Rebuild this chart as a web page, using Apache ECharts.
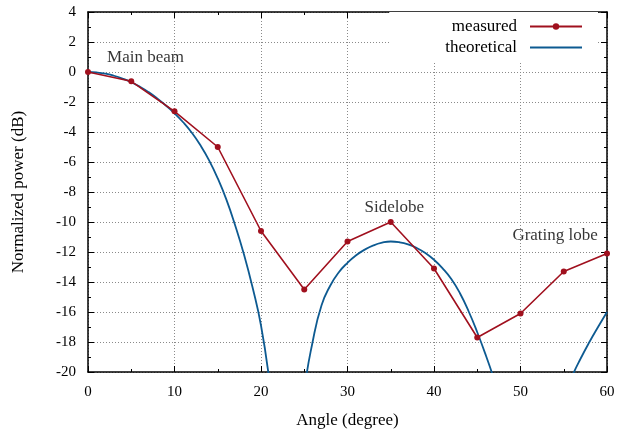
<!DOCTYPE html>
<html>
<head>
<meta charset="utf-8">
<script src="https://cdn.jsdelivr.net/npm/echarts@6/dist/echarts.min.js"></script>
<style>html,body{margin:0;padding:0;background:#fff}#c{width:618px;height:431px}</style>
</head>
<body>
<div id="c"></div>
<script>
// ---- data ----
const measuredAngle = [0, 5, 10, 15, 20, 25, 30, 35, 40, 45, 50, 55, 60];
const measuredPower = [0, -0.62, -2.62, -5.0, -10.6, -14.5, -11.3, -10.0, -13.1, -17.7, -16.1, -13.3, -12.1];

// theoretical curve at 1-degree steps (values below -20 are clipped by the axis)
const theoryAngle = [0, 1, 2, 3, 4, 5, 6, 7, 8, 9, 10, 11, 12, 13, 14, 15, 16, 17, 18, 19, 20, 21, 22, 23, 24, 25, 26, 27, 28, 29, 30, 31, 32, 33, 34, 35, 36, 37, 38, 39, 40, 41, 42, 43, 44, 45, 46, 47, 48, 49, 50, 51, 52, 53, 54, 55, 56, 57, 58, 59, 60];
const theoryPower = [0, -0.03, -0.11, -0.25, -0.44, -0.68, -0.98, -1.34, -1.76, -2.23, -2.75, -3.35, -4.05, -4.89, -5.89, -7.09, -8.51, -10.2, -12.1, -14.3, -16.9, -20.7, -25.5, -32, -27.5, -21.3, -17.9, -15.55, -14.25, -13.35, -12.72, -12.22, -11.84, -11.56, -11.38, -11.3, -11.35, -11.49, -11.73, -12.07, -12.52, -13.09, -13.8, -14.75, -15.95, -17.35, -18.9, -20.6, -22.6, -25.2, -29.5, -36, -33, -27, -23.8, -21.8, -20.25, -19.05, -17.97, -16.97, -16.0];

const noteText = ['Main beam', 'Sidelobe', 'Grating lobe'];
const noteAngle = [6.65, 35.4, 54.0];
const notePower = [0.95, -9.05, -10.9];

const xTicks = [0, 10, 20, 30, 40, 50, 60];
const yTicks = [-20, -18, -16, -14, -12, -10, -8, -6, -4, -2, 0, 2, 4];

// ---- chart ----
const RED = '#a0101e', BLUE = '#0d5a91';
const FONT = 'Liberation Serif';
const chart = echarts.init(document.getElementById('c'), null, {renderer: 'canvas'});

function xAx(pos, labels) {
  return {
    type: 'value', position: pos, min: xTicks[0], max: xTicks[xTicks.length - 1], interval: 10,
    axisLine: {show: true, onZero: false, lineStyle: {color: '#000', width: 1.5}},
    axisTick: {show: true, inside: true, length: 6, lineStyle: {color: '#000', width: 1}},
    minorTick: {show: true, splitNumber: 2, length: 3, lineStyle: {color: '#000', width: 1}},
    axisLabel: {show: labels, fontFamily: FONT, fontSize: 15, color: '#000', margin: 13},
    splitLine: {show: labels, lineStyle: {color: '#8a8a8a', type: [1, 2], width: 1}},
    name: labels ? 'Angle (degree)' : '', nameLocation: 'middle', nameGap: 40,
    nameTextStyle: {fontFamily: FONT, fontSize: 17, color: '#000'}
  };
}
function yAx(pos, labels) {
  return {
    type: 'value', position: pos, min: yTicks[0], max: yTicks[yTicks.length - 1], interval: 2,
    axisLine: {show: true, onZero: false, lineStyle: {color: '#000', width: 1.5}},
    axisTick: {show: true, inside: true, length: 6, lineStyle: {color: '#000', width: 1}},
    minorTick: {show: true, splitNumber: 2, length: 3, lineStyle: {color: '#000', width: 1}},
    axisLabel: {show: labels, fontFamily: FONT, fontSize: 15, color: '#000', margin: 12},
    splitLine: {show: labels, lineStyle: {color: '#8a8a8a', type: [1, 2], width: 1}},
    name: labels ? 'Normalized power (dB)' : '', nameLocation: 'middle', nameGap: 61,
    nameTextStyle: {fontFamily: FONT, fontSize: 17, color: '#000'}
  };
}

const option = {
  animation: false,
  backgroundColor: '#fff',
  grid: {left: 88, right: 11, top: 12, bottom: 59, outerBoundsMode: 'none', containLabel: false},
  xAxis: [xAx('bottom', true), xAx('top', false)],
  yAxis: [yAx('left', true), yAx('right', false)],
  legend: {
    data: [{name: 'measured'}, {name: 'theoretical', itemStyle: {opacity: 0}}],
    orient: 'vertical', align: 'right',
    right: 20, top: 12,
    padding: [6, 15, 5, 56],
    backgroundColor: '#fff',
    itemWidth: 52, itemHeight: 8, itemGap: 4,
    textStyle: {fontFamily: FONT, fontSize: 17, color: '#000', padding: [0, 8, 0, 0], lineHeight: 14}
  },
  series: [
    {
      name: 'measured', type: 'line', xAxisIndex: 0, yAxisIndex: 0,
      data: measuredAngle.map((a, i) => [a, measuredPower[i]]),
      symbol: 'circle', symbolSize: 6, showSymbol: true,
      lineStyle: {color: RED, width: 1.6}, itemStyle: {color: RED}, z: 3
    },
    {
      name: 'theoretical', type: 'line', xAxisIndex: 0, yAxisIndex: 0,
      data: theoryAngle.map((a, i) => [a, theoryPower[i]]),
      symbol: 'none', smooth: 0.5, clip: true,
      lineStyle: {color: BLUE, width: 1.8}, itemStyle: {color: BLUE}, z: 2
    },
    {
      name: 'notes', type: 'scatter', xAxisIndex: 0, yAxisIndex: 0,
      data: noteText.map((t, i) => [noteAngle[i], notePower[i], t]),
      symbolSize: 0, silent: true,
      label: {show: true, position: 'inside', formatter: p => p.data[2],
              fontFamily: FONT, fontSize: 17, color: '#000'}
    }
  ]
};
chart.setOption(option);
</script>
</body>
</html>
